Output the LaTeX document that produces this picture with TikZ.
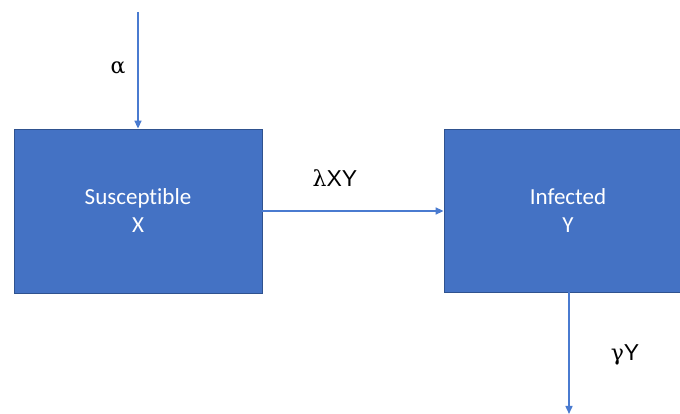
\documentclass[tikz,border=0pt]{standalone}
\usepackage{fontspec}
\setmainfont[Ligatures=NoCommon]{Carlito}
\newfontfamily\lblfont{Liberation Sans}
\newfontfamily\grkfont{DejaVu Serif}
\usetikzlibrary{arrows.meta}
\definecolor{boxfill}{HTML}{4472C4}
\definecolor{boxline}{HTML}{2F528F}
\definecolor{arr}{HTML}{4A7BD0}
\begin{document}
\begin{tikzpicture}[x=1pt,y=1pt,
  compartment/.style={draw=boxline, line width=0.8pt, fill=boxfill, text=white,
    font=\fontsize{23}{28}\selectfont, align=center, inner sep=0pt},
  flow/.style={draw=arr, line width=1.5pt, -{Triangle[length=8pt,width=7pt]}},
  lbl/.style={font=\fontsize{23}{28}\selectfont\lblfont, text=black, inner sep=0pt}]
\useasboundingbox (0,0) rectangle (680,414);
\node[compartment, minimum width=248pt, minimum height=164pt] (S) at (138,203) {Susceptible\\X};
\node[compartment, minimum width=248pt, minimum height=163pt] (I) at (568,203.5) {Infected\\Y};
\coordinate (src) at (138,402);
\coordinate (sink) at (569,0);
\draw[flow] (src) -- (S.north);
\draw[flow] (S.east |- 0,203) -- (I.west |- 0,203);
\draw[flow] (I.south -| sink) -- (sink);
\node[lbl] (la) at (118,346) {{\grkfont\fontsize{22}{26}\selectfont α}};
\node[lbl] (lb) at (335,236) {{\grkfont\fontsize{22}{26}\selectfont λ}XY};
\node[lbl] (lc) at (625,59) {{\grkfont\fontsize{22}{26}\selectfont γ}Y};
\end{tikzpicture}
\end{document}
